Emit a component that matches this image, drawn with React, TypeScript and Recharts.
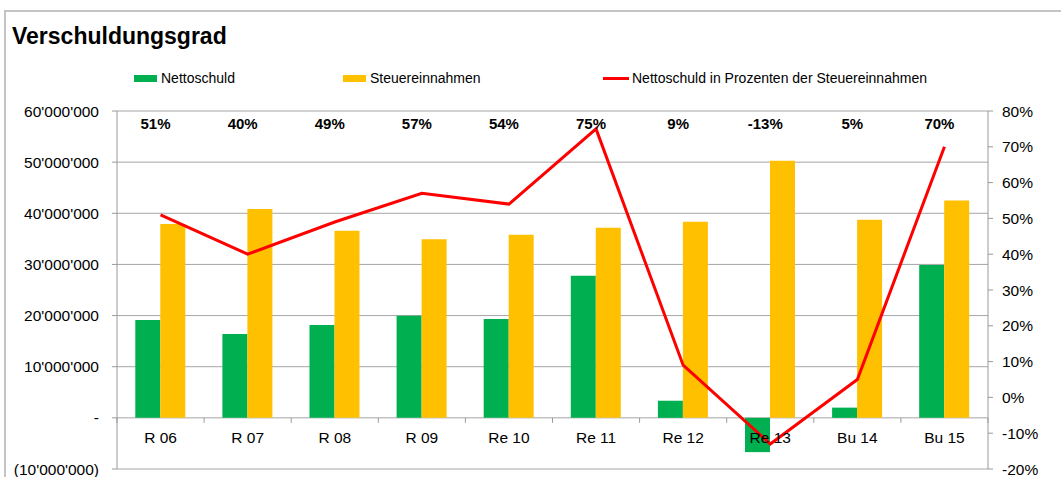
import React from 'react';
import {
  ComposedChart,
  Bar,
  Line,
  XAxis,
  YAxis,
  CartesianGrid,
  LabelList
} from 'recharts';

const categories = ['R 06', 'R 07', 'R 08', 'R 09', 'Re 10', 'Re 11', 'Re 12', 'Re 13', 'Bu 14', 'Bu 15'];
const nettoschuld = [19150000, 16400000, 18150000, 19950000, 19350000, 27800000, 3350000, -6700000, 2000000, 29900000];
const steuereinnahmen = [37900000, 40850000, 36600000, 34900000, 35800000, 37150000, 38350000, 50250000, 38750000, 42500000];
const prozent = [51, 40, 49, 57, 54, 75, 9, -13, 5, 70];
const leftTicks = [-10000000, 0, 10000000, 20000000, 30000000, 40000000, 50000000, 60000000];
const rightTicks = [-20, -10, 0, 10, 20, 30, 40, 50, 60, 70, 80];

const FONT = '"Liberation Sans", Arial, sans-serif';
const W = 1061;
const H = 477;
const PLOT_TOP = 111;
const PLOT_LEFT = 117;
const PLOT_RIGHT = 988;
const PLOT_BOTTOM = 469;
const LEFT_MIN = leftTicks[0];
const LEFT_MAX = leftTicks[leftTicks.length - 1];
const ZERO_Y = PLOT_TOP + ((LEFT_MAX - 0) / (LEFT_MAX - LEFT_MIN)) * (PLOT_BOTTOM - PLOT_TOP);
const BAND = (PLOT_RIGHT - PLOT_LEFT) / categories.length;

const data = categories.map((name, i) => ({
  name,
  netto: nettoschuld[i],
  steuer: steuereinnahmen[i],
  pct: prozent[i]
}));

const legendItems = [
  { label: 'Nettoschuld', color: '#00b050', kind: 'rect', left: 134 },
  { label: 'Steuereinnahmen', color: '#ffc000', kind: 'rect', left: 343 },
  { label: 'Nettoschuld in Prozenten der Steuereinnahmen', color: '#ff0000', kind: 'line', left: 603 }
];

const fmtMoney = (v: number) => {
  if (v === 0) return '-';
  const s = Math.abs(v).toString().replace(/\B(?=(\d{3})+(?!\d))/g, "'");
  return v < 0 ? `(${s})` : s;
};

const CategoryTick = (props: any) => {
  const { x, index, payload } = props;
  const isLast = index === categories.length - 1;
  return (
    <g>
      <line x1={x - BAND / 2} x2={x - BAND / 2} y1={ZERO_Y} y2={ZERO_Y + 5} stroke="#9a9a9a" />
      {isLast && (
        <line x1={x + BAND / 2} x2={x + BAND / 2} y1={ZERO_Y} y2={ZERO_Y + 5} stroke="#9a9a9a" />
      )}
      <text x={x} y={ZERO_Y + 25} textAnchor="middle" fontSize={15.5} fontFamily={FONT} fill="#000">
        {payload.value}
      </text>
    </g>
  );
};

const PctLabel = (props: any) => {
  const { x, value } = props;
  return (
    <text x={x - 5} y={PLOT_TOP + 18} textAnchor="middle" fontSize={15} fontWeight="bold" fontFamily={FONT} fill="#000">
      {`${value}%`}
    </text>
  );
};

export default function App() {
  return (
    <div style={{ position: 'absolute', left: 0, top: 0, width: W, height: H, background: '#fff', overflow: 'hidden', fontFamily: FONT }}>
      <div style={{ position: 'absolute', left: 4, top: 10, width: W, height: H, borderTop: '2px solid #c4c4c4', borderLeft: '2px solid #c4c4c4' }} />
      <div style={{ position: 'absolute', left: 12, top: 22, fontSize: 23, fontWeight: 'bold', color: '#000', lineHeight: '28px' }}>
        Verschuldungsgrad
      </div>
      {legendItems.map((it) => (
        <div key={it.label} style={{ position: 'absolute', left: it.left, top: 69, height: 18, display: 'flex', alignItems: 'center', fontSize: 14, color: '#000' }}>
          {it.kind === 'rect' ? (
            <span style={{ display: 'inline-block', width: 23, height: 7, background: it.color, marginRight: 4 }} />
          ) : (
            <span style={{ display: 'inline-block', width: 26, height: 3, background: it.color, marginRight: 3 }} />
          )}
          {it.label}
        </div>
      ))}
      <div style={{ position: 'absolute', left: 0, top: 0 }}>
        <ComposedChart
          width={W}
          height={H}
          data={data}
          margin={{ top: PLOT_TOP, right: W - PLOT_RIGHT - 66, bottom: 0, left: PLOT_LEFT - 114 }}
          barCategoryGap="21%"
          barGap={0}
        >
          <CartesianGrid yAxisId="left" vertical={false} stroke="#a6a6a6" />
          <XAxis
            dataKey="name"
            height={H - PLOT_BOTTOM}
            axisLine={false}
            tickLine={false}
            tick={<CategoryTick />}
            interval={0}
          />
          <YAxis
            yAxisId="left"
            width={114}
            domain={[LEFT_MIN, LEFT_MAX]}
            ticks={leftTicks}
            tickFormatter={fmtMoney}
            stroke="#9a9a9a"
            tickSize={5}
            tickMargin={13}
            tick={{ fill: '#000', fontSize: 15.5, fontFamily: FONT }}
            interval={0}
          />
          <YAxis
            yAxisId="right"
            orientation="right"
            width={66}
            domain={[-20, 80]}
            ticks={rightTicks}
            tickFormatter={(v: number) => `${v}%`}
            stroke="#9a9a9a"
            tickSize={5}
            tickMargin={9}
            tick={{ fill: '#000', fontSize: 15.5, fontFamily: FONT }}
            interval={0}
          />
          <Bar yAxisId="left" dataKey="netto" fill="#00b050" isAnimationActive={false} />
          <Bar yAxisId="left" dataKey="steuer" fill="#ffc000" isAnimationActive={false} />
          <Line
            yAxisId="right"
            dataKey="pct"
            type="linear"
            stroke="#ff0000"
            strokeWidth={3}
            dot={false}
            activeDot={false}
            isAnimationActive={false}
          >
            <LabelList dataKey="pct" content={<PctLabel />} />
          </Line>
        </ComposedChart>
      </div>
    </div>
  );
}
